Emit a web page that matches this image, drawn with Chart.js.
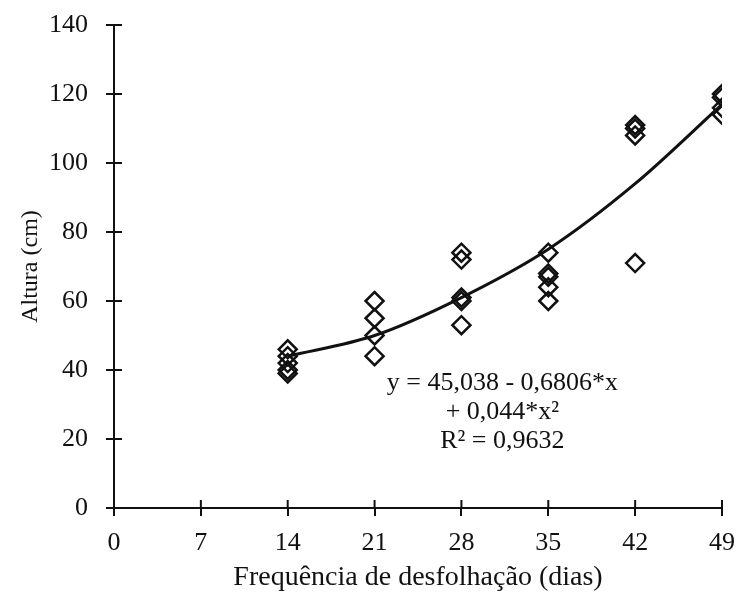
<!DOCTYPE html>
<html>
<head>
<meta charset="utf-8">
<script src="https://cdn.jsdelivr.net/npm/chart.js@4/dist/chart.umd.min.js"></script>
<style>
  html, body { margin: 0; padding: 0; background: #fff; }
  #wrap { width: 741px; height: 594px; }
</style>
</head>
<body>
<div id="wrap"><canvas id="altChart"></canvas></div>
<script>
// observed heights (cm) per defoliation frequency (days)
const obsDays = [14, 14, 14, 14, 14, 21, 21, 21, 21, 28, 28, 28, 28, 28, 35, 35, 35, 35, 35, 42, 42, 42, 42, 49, 49, 49, 49];
const obsHeight = [46, 44, 42, 40, 39, 60, 55, 50, 44, 74, 72, 61, 60, 53, 74, 68, 67, 64, 60, 111, 110, 108, 71, 120, 119, 116, 114];

// fitted curve
const fitDays = [14, 21, 28, 35, 42, 49];
const fitHeight = [44, 50, 61, 75, 94, 117];

const xTicks = [0, 7, 14, 21, 28, 35, 42, 49];
const yTicks = [0, 20, 40, 60, 80, 100, 120, 140];

const eqLines = ["y = 45,038 - 0,6806*x", "+ 0,044*x²", "R² = 0,9632"];

const serif = "'Liberation Serif', 'Times New Roman', serif";
const ink = "#111";

// cross-style ticks: draw the inner half of each tick mark
const crossTicks = {
  id: "crossTicks",
  afterDraw(chart) {
    const ctx = chart.ctx;
    const xs = chart.scales.x, ys = chart.scales.y;
    ctx.save();
    ctx.strokeStyle = ink;
    ctx.lineWidth = 2;
    xTicks.forEach(function (t) {
      const px = xs.getPixelForValue(t);
      ctx.beginPath();
      ctx.moveTo(px, ys.bottom);
      ctx.lineTo(px, ys.bottom - 8);
      ctx.stroke();
    });
    yTicks.forEach(function (t) {
      const py = ys.getPixelForValue(t);
      ctx.beginPath();
      ctx.moveTo(xs.left, py);
      ctx.lineTo(xs.left + 8, py);
      ctx.stroke();
    });
    ctx.restore();
  }
};

// regression equation text
const equation = {
  id: "equation",
  afterDatasetsDraw(chart) {
    const ctx = chart.ctx;
    const cx = chart.scales.x.getPixelForValue(31.3);
    const cy = chart.scales.y.getPixelForValue(36.2);
    ctx.save();
    ctx.fillStyle = ink;
    ctx.font = "26px " + serif;
    ctx.textAlign = "center";
    ctx.textBaseline = "middle";
    eqLines.forEach(function (line, i) {
      ctx.fillText(line, cx, cy + i * 29);
    });
    ctx.restore();
  }
};

new Chart("altChart", {
  type: "scatter",
  data: {
    datasets: [
      {
        type: "line",
        data: fitDays.map((d, i) => ({ x: d, y: fitHeight[i] })),
        borderColor: ink,
        borderWidth: 3,
        pointRadius: 0,
        cubicInterpolationMode: "monotone",
        fill: false
      },
      {
        data: obsDays.map((d, i) => ({ x: d, y: obsHeight[i] })),
        pointStyle: "rectRot",
        pointRadius: 9,
        pointBorderWidth: 2.5,
        borderColor: ink,
        backgroundColor: "rgba(0,0,0,0)"
      }
    ]
  },
  options: {
    responsive: true,
    maintainAspectRatio: false,
    animation: false,
    layout: { padding: { left: 0, right: 19, top: 25, bottom: 0 } },
    plugins: {
      legend: { display: false },
      tooltip: { enabled: false }
    },
    scales: {
      x: {
        type: "linear",
        min: 0,
        max: 49,
        afterFit(scale) {
          scale.height = 86;
          scale.paddingLeft = 0;
          scale.paddingRight = 0;
        },
        afterBuildTicks(scale) { scale.ticks = xTicks.map(v => ({ value: v })); },
        ticks: { color: ink, padding: 12, font: { family: serif, size: 26 } },
        grid: { drawOnChartArea: false, color: ink, lineWidth: 2, tickLength: 8 },
        border: { color: ink, width: 2 },
        title: {
          display: true,
          text: "Frequência de desfolhação (dias)",
          color: ink,
          font: { family: serif, size: 28 },
          padding: { top: 0, bottom: 0 }
        }
      },
      y: {
        min: 0,
        max: 140,
        afterFit(scale) {
          scale.width = 114;
          scale.paddingTop = 0;
          scale.paddingBottom = 0;
        },
        afterBuildTicks(scale) { scale.ticks = yTicks.map(v => ({ value: v })); },
        ticks: { color: ink, padding: 18, font: { family: serif, size: 26 } },
        grid: { drawOnChartArea: false, color: ink, lineWidth: 2, tickLength: 8 },
        border: { color: ink, width: 2 },
        title: {
          display: true,
          text: "Altura (cm)",
          color: ink,
          font: { family: serif, size: 24 },
          padding: { top: 16, bottom: 0 }
        }
      }
    }
  },
  plugins: [crossTicks, equation]
});
</script>
</body>
</html>
